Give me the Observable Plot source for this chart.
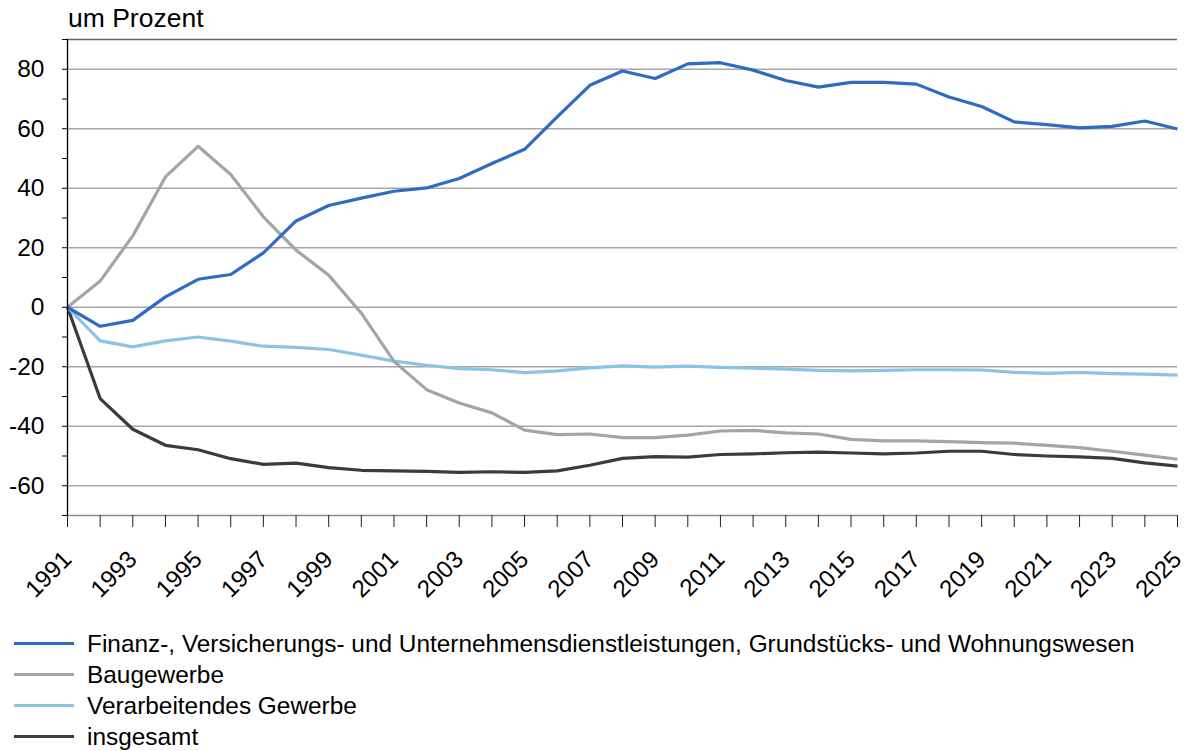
<!DOCTYPE html>
<html>
<head>
<meta charset="utf-8">
<script src="https://cdn.jsdelivr.net/npm/d3@7"></script>
<script src="https://cdn.jsdelivr.net/npm/@observablehq/plot@0.6"></script>
<style>
  body { margin: 0; background: #fff; font-family: "Liberation Sans", Arial, sans-serif; color: #000; }
  #wrap { position: relative; width: 1202px; height: 751px; overflow: hidden; }
  #title { position: absolute; left: 68px; top: 3px; font-size: 26.5px; line-height: 30px; }
  #chart { position: absolute; left: 0; top: 30px; }
  #legend { position: absolute; left: 0; top: 628px; }
  .row { display: flex; align-items: center; height: 31px; font-size: 24.4px; }
  .sw { width: 60px; height: 3px; margin-left: 14px; margin-right: 13px; }
</style>
</head>
<body>
<div id="wrap">
  <div id="title">um Prozent</div>
  <div id="chart"></div>
  <div id="legend"></div>
</div>
<script>
const years = [1991,1992,1993,1994,1995,1996,1997,1998,1999,2000,2001,2002,2003,2004,2005,2006,2007,2008,2009,2010,2011,2012,2013,2014,2015,2016,2017,2018,2019,2020,2021,2022,2023,2024,2025];

const seriesNames = [
  "Finanz-, Versicherungs- und Unternehmensdienstleistungen, Grundstücks- und Wohnungswesen",
  "Baugewerbe",
  "Verarbeitendes Gewerbe",
  "insgesamt"
];
const seriesColors = ["#2f6bc3", "#a5a5a5", "#8ac3e6", "#3b3b3b"];

const finanz = [0,-6.4,-4.4,3.5,9.4,11,18.3,29,34.2,36.7,39,40.1,43.3,48.3,53.1,64,74.6,79.4,76.9,81.8,82.2,79.7,76.2,74,75.6,75.6,75,70.7,67.5,62.3,61.4,60.3,60.8,62.6,59.9];
const bau = [0,8.8,24,43.8,54.1,44.6,30.4,19.2,10.8,-2,-18.2,-27.7,-32.2,-35.5,-41.3,-42.8,-42.6,-43.8,-43.8,-43,-41.6,-41.4,-42.2,-42.6,-44.4,-44.9,-44.9,-45.2,-45.5,-45.7,-46.4,-47.2,-48.4,-49.7,-51.1];
const verarb = [0,-11.3,-13.3,-11.3,-10,-11.4,-13.1,-13.5,-14.2,-16.1,-18.1,-19.5,-20.6,-21,-22,-21.4,-20.4,-19.7,-20.1,-19.8,-20.2,-20.5,-20.8,-21.2,-21.4,-21.2,-21,-21,-21.1,-21.9,-22.2,-21.9,-22.3,-22.5,-22.8];
const gesamt = [0,-30.7,-41,-46.4,-47.9,-50.9,-52.8,-52.4,-53.9,-54.8,-55,-55.2,-55.5,-55.3,-55.5,-55,-53.1,-50.8,-50.2,-50.4,-49.5,-49.3,-48.9,-48.7,-49,-49.3,-49,-48.4,-48.4,-49.5,-50,-50.3,-50.8,-52.3,-53.4];

const yTicksMajor = [-60,-40,-20,0,20,40,60,80];
const yTicksMinor = [-70,-60,-50,-40,-30,-20,-10,0,10,20,30,40,50,60,70,80,90];
const xLabelYears = [1991,1993,1995,1997,1999,2001,2003,2005,2007,2009,2011,2013,2015,2017,2019,2021,2023,2025];

const allValues = [finanz, bau, verarb, gesamt];
const data = [];
allValues.forEach((vals, s) => {
  vals.forEach((v, i) => data.push({ year: years[i], value: v, series: seriesNames[s] }));
});
const drawOrder = [3, 2, 1, 0];

const marks = [
  Plot.gridY(yTicksMajor, { stroke: "#a6a6a6", strokeOpacity: 1, strokeWidth: 1.3 }),
  Plot.ruleY([90], { stroke: "#666", strokeWidth: 1.5 }),
  Plot.ruleY([-70], { stroke: "#8c8c8c", strokeWidth: 1.5, x1: 1991, x2: 2025 }),
  Plot.axisY({ ticks: yTicksMinor, tickSize: 5, tickPadding: 18, fontSize: 24.5,
    tickFormat: d => (yTicksMajor.includes(d) ? String(d) : ""), label: null, stroke: "#000" }),
  Plot.axisX({ ticks: years, tickSize: 12, tickPadding: 28, fontSize: 24, tickRotate: -45,
    tickFormat: d => (xLabelYears.includes(d) ? String(d) : ""), label: null, stroke: "#222" }),
];
drawOrder.forEach(s => {
  marks.push(Plot.line(data.filter(d => d.series === seriesNames[s]), {
    x: "year", y: "value", stroke: seriesColors[s], strokeWidth: 3.2, strokeLinejoin: "round", strokeLinecap: "butt"
  }));
});
marks.push(Plot.ruleX([1991], { y1: -70, y2: 90, stroke: "#000", strokeWidth: 1.3 }));

const chart = Plot.plot({
  width: 1202,
  height: 590,
  marginTop: 9,
  marginLeft: 67,
  marginRight: 25,
  marginBottom: 105,
  x: { domain: [1991, 2025] },
  y: { domain: [-70, 90] },
  style: { fontFamily: "'Liberation Sans', Arial, sans-serif", color: "#000", background: "transparent", overflow: "visible" },
  marks
});
document.getElementById("chart").appendChild(chart);

const legend = document.getElementById("legend");
seriesNames.forEach((n, i) => {
  const row = document.createElement("div");
  row.className = "row";
  const sw = document.createElement("div");
  sw.className = "sw";
  sw.style.background = seriesColors[i];
  const t = document.createElement("span");
  t.textContent = n;
  row.appendChild(sw);
  row.appendChild(t);
  legend.appendChild(row);
});
</script>
</body>
</html>
